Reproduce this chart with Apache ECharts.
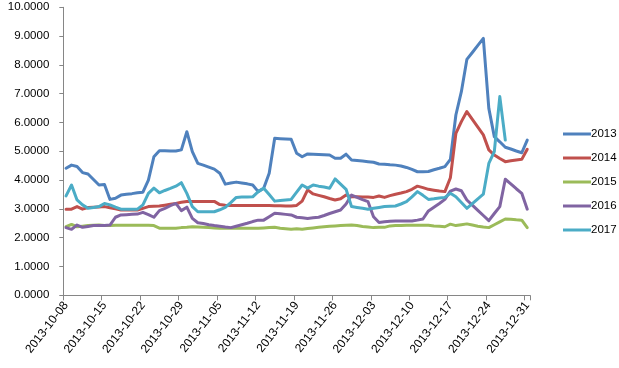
<!DOCTYPE html>
<html>
<head>
<meta charset="utf-8">
<script src="https://cdn.jsdelivr.net/npm/echarts@6/dist/echarts.min.js"></script>
<style>html,body{margin:0;padding:0;background:#fff;}#c{width:619px;height:368px;}</style>
</head>
<body>
<div id="c"></div>
<script>
// categories: daily dates 2013-10-08 .. 2013-12-31
const dates = [];
(function(){
  const d = new Date(Date.UTC(2013, 9, 8));
  const end = Date.UTC(2013, 11, 31);
  while (d.getTime() <= end) {
    dates.push(d.toISOString().slice(0, 10));
    d.setUTCDate(d.getUTCDate() + 1);
  }
})();

const seriesNames = ['2013', '2014', '2015', '2016', '2017'];

const v2013 = [4.41,4.52,4.47,4.26,4.21,4.02,3.83,3.85,3.33,3.37,3.48,3.51,3.53,3.56,3.58,4.00,4.81,5.02,5.02,5.01,
  5.01,5.05,5.68,4.99,4.58,4.52,4.45,4.38,4.24,3.86,3.90,3.93,3.90,3.87,3.83,3.60,3.72,4.24,5.45,5.44,
  5.43,5.42,4.93,4.81,4.91,4.90,4.89,4.88,4.87,4.76,4.76,4.90,4.70,4.68,4.66,4.64,4.62,4.56,4.55,4.53,
  4.52,4.49,4.44,4.37,4.29,4.29,4.30,4.36,4.41,4.47,4.72,6.26,7.07,8.19,8.43,8.68,8.92,6.49,5.51,5.33,
  5.14,5.08,5.01,4.95,5.39];

const v2014 = [2.99,2.99,3.08,2.99,3.05,3.06,3.07,3.08,3.04,3.00,2.96,2.96,2.96,2.96,3.02,3.08,3.09,3.10,3.13,3.16,
  3.19,3.23,3.26,3.26,3.26,3.26,3.26,3.26,3.15,3.13,3.12,3.12,3.12,3.12,3.12,3.12,3.12,3.12,3.11,3.11,
  3.10,3.10,3.12,3.27,3.66,3.52,3.47,3.42,3.36,3.31,3.35,3.48,3.42,3.42,3.41,3.41,3.40,3.45,3.40,3.46,
  3.51,3.55,3.60,3.68,3.79,3.74,3.68,3.65,3.62,3.60,4.08,5.62,6.03,6.38,6.11,5.84,5.57,5.05,4.87,4.75,
  4.64,4.67,4.70,4.72,5.07];

const v2015 = [2.38,2.46,2.38,2.40,2.42,2.43,2.44,2.42,2.42,2.43,2.43,2.43,2.43,2.43,2.43,2.43,2.42,2.33,2.33,2.33,
  2.33,2.35,2.36,2.38,2.37,2.36,2.35,2.34,2.33,2.33,2.33,2.33,2.33,2.33,2.33,2.33,2.34,2.35,2.36,2.33,
  2.31,2.29,2.31,2.29,2.32,2.34,2.36,2.38,2.40,2.41,2.42,2.43,2.44,2.42,2.39,2.37,2.35,2.36,2.36,2.41,
  2.42,2.42,2.43,2.43,2.43,2.43,2.43,2.41,2.40,2.38,2.47,2.42,2.45,2.48,2.44,2.40,2.37,2.35,2.45,2.55,
  2.65,2.64,2.62,2.61,2.35];

const v2016 = [2.35,2.29,2.44,2.36,2.39,2.42,2.42,2.42,2.44,2.71,2.79,2.80,2.81,2.82,2.88,2.80,2.71,2.94,3.02,3.11,
  3.19,2.94,3.06,2.67,2.52,2.49,2.45,2.42,2.40,2.37,2.35,2.40,2.45,2.50,2.56,2.61,2.61,2.73,2.85,2.83,
  2.81,2.79,2.71,2.69,2.67,2.69,2.71,2.77,2.84,2.90,2.96,3.17,3.48,3.40,3.32,3.25,2.73,2.53,2.55,2.57,
  2.58,2.58,2.58,2.58,2.61,2.65,2.93,3.06,3.19,3.33,3.62,3.69,3.63,3.31,3.13,2.95,2.77,2.59,2.84,3.08,
  4.03,3.87,3.70,3.54,2.99];

const v2017 = [3.45,3.83,3.31,3.14,3.02,3.05,3.08,3.19,3.14,3.06,2.99,2.99,2.99,2.99,3.14,3.54,3.72,3.56,3.64,3.71,
  3.79,3.91,3.54,3.08,2.90,2.90,2.90,2.90,2.97,3.05,3.22,3.40,3.41,3.41,3.42,3.60,3.72,3.50,3.27,3.29,
  3.31,3.33,3.58,3.83,3.72,3.83,3.79,3.76,3.72,4.04,3.86,3.68,3.08,3.05,3.02,2.99,3.02,3.05,3.08,3.09,
  3.10,3.17,3.25,3.42,3.60,3.47,3.33,3.35,3.38,3.40,3.54,3.42,3.22,3.02,3.18,3.35,3.51,4.58,4.99,6.90,
  5.39,null,null,null,null];

const yTicks = [0,1,2,3,4,5,6,7,8,9,10];

const values = [v2013, v2014, v2015, v2016, v2017];
const colors = ['#4F81BD', '#C0504D', '#9BBB59', '#8064A2', '#4BACC6'];
const FONT = '"Liberation Sans", Arial, sans-serif';

const chart = echarts.init(document.getElementById('c'), null, {renderer: 'canvas'});
chart.setOption({
  animation: false,
  backgroundColor: '#ffffff',
  color: colors,
  grid: {left: 63.3, right: 89, top: 7.3, bottom: 72.7, containLabel: false},
  legend: {
    orient: 'vertical',
    left: 558,
    top: 122,
    icon: 'rect',
    itemWidth: 28,
    itemHeight: 3,
    itemGap: 10,
    textStyle: {color: '#000', fontSize: 11.5, fontFamily: FONT, padding: [0,0,0,-5], lineHeight: 14},
    data: seriesNames
  },
  xAxis: {
    type: 'category',
    data: dates,
    boundaryGap: true,
    axisLine: {show: true, lineStyle: {color: '#868686', width: 1}},
    axisTick: {show: true, interval: 6, length: 5, lineStyle: {color: '#868686'}},
    axisLabel: {interval: 6, rotate: 52, margin: 8, color: '#000', fontSize: 12, fontFamily: FONT},
    splitLine: {show: false}
  },
  yAxis: {
    type: 'value',
    min: yTicks[0],
    max: yTicks[yTicks.length - 1],
    interval: 1,
    axisLine: {show: true, lineStyle: {color: '#868686', width: 1}},
    axisTick: {show: true, length: 4, lineStyle: {color: '#868686'}},
    axisLabel: {margin: 14, color: '#000', fontSize: 11.5, fontFamily: FONT,
      formatter: v => v.toFixed(4)},
    splitLine: {show: false}
  },
  series: seriesNames.map((n, i) => ({
    name: n,
    type: 'line',
    data: values[i],
    symbol: 'none',
    showSymbol: false,
    connectNulls: false,
    lineStyle: {width: 3, color: colors[i], join: 'round', cap: 'round'},
    itemStyle: {color: colors[i]},
    emphasis: {disabled: true}
  }))
});
</script>
</body>
</html>
